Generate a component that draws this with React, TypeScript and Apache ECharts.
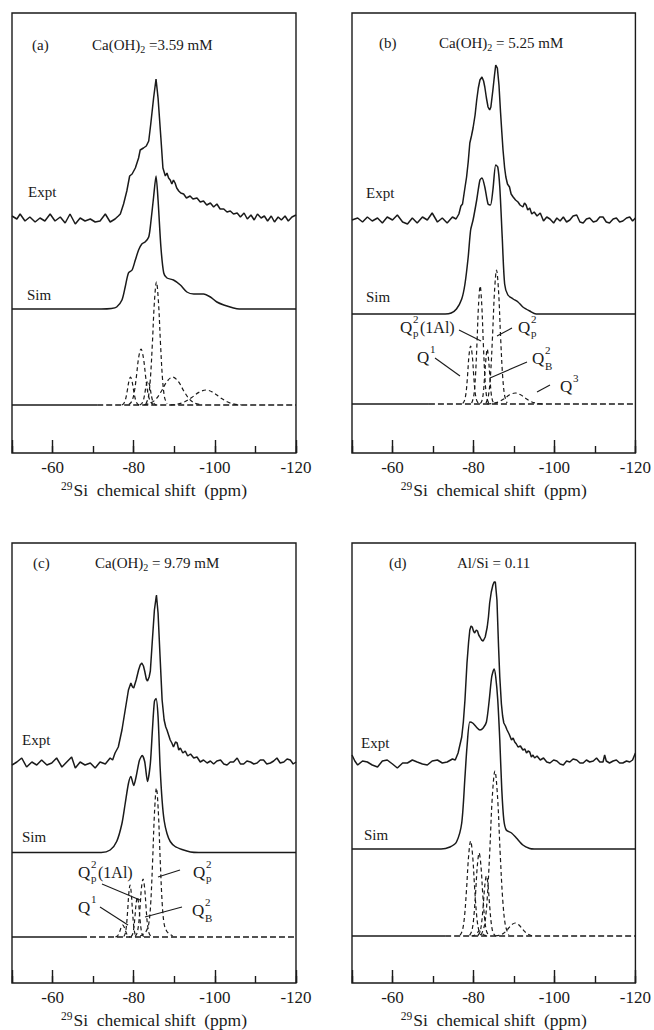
import { useEffect, useRef } from "react";
import * as echarts from "echarts";

type Pt = [number, number];

// ---- Axis ----
const xMin = -120;
const xMax = -50;
const majorStep = 20;
const minorStep = 10;

// ---- (a) Ca(OH)2 = 3.59 mM ----
const exptA: Pt[] = [[-50,2],[-51.2,-1],[-52,4],[-53.2,-3],[-54.4,1],[-55.7,-4],[-56.9,0],[-58.1,-3],[-59.4,4],[-60.6,-3],[-61.9,1],[-63.1,-5],[-64.3,4],[-65.6,-6],[-66.8,0],[-68,-3],[-69.3,-1],[-70.5,-4],[-71.7,-3],[-73,4],[-74.2,-4],[-75.4,-1],[-76.2,2],[-76.7,4],[-77.5,14],[-78.3,27],[-79.0,42],[-79.6,44],[-80.4,50],[-81.2,60],[-81.6,68],[-82.4,70],[-83.1,72],[-83.7,77],[-84.2,94],[-84.9,120],[-85.5,139],[-86.0,120],[-86.7,80],[-87.2,50],[-87.8,42],[-88.2,45],[-88.6,40],[-89.0,38],[-89.4,34],[-89.8,38],[-90.2,35],[-90.6,30],[-91.1,27],[-91.6,25],[-92.3,24],[-93.0,20],[-93.9,22],[-94.6,19],[-95.6,20],[-96.4,16],[-97.2,17],[-98.0,13],[-98.9,15],[-99.7,11],[-100.5,14],[-101.3,9],[-102.2,9],[-103,6],[-103.8,7],[-104.6,4],[-105.5,5],[-106.3,1],[-107.2,5],[-108,-1],[-108.9,3],[-109.7,-2],[-110.5,4],[-111.4,0],[-112.2,2],[-113,-3],[-113.9,2],[-114.7,-4],[-115.6,1],[-116.4,-2],[-117.3,2],[-118.1,-3],[-119,1],[-120,3]];
const simA: Pt[] = [[-50,0],[-72,0],[-74.5,0.5],[-75.8,2],[-77.1,9],[-77.9,22],[-78.7,36],[-79.6,39],[-80.4,49],[-81.2,59],[-82.0,65],[-82.8,67],[-83.7,72],[-84.2,86],[-84.9,112],[-85.5,133],[-86.0,109],[-86.7,62],[-87.4,36],[-88.2,31],[-89.8,29],[-91.5,24],[-93.1,17],[-94.8,15],[-97.2,15],[-98.9,12],[-100.5,7],[-102.2,4],[-104.6,1],[-106,0],[-120,0]];
const compA1: Pt[] = [[-77.1,0],[-77.6,1.8],[-78.0,6],[-78.4,14],[-78.8,23.5],[-79.2,28],[-79.6,23.5],[-80.0,14],[-80.4,6],[-80.8,1.8],[-81.3,0]];
const compA2: Pt[] = [[-78.8,0.5],[-79.5,3.5],[-80.1,12],[-80.65,28],[-81.2,47],[-81.8,56],[-82.4,47],[-82.95,28],[-83.5,12],[-84.1,3.5],[-84.8,0.5]];
const compA3: Pt[] = [[-83.0,1],[-83.6,7.7],[-84.1,26],[-84.6,61.5],[-85.1,103],[-85.6,123],[-86.1,103],[-86.6,61.5],[-87.1,26],[-87.6,7.7],[-88.2,1]];
const compA4: Pt[] = [[-81.5,0],[-82.0,1.5],[-82.4,5],[-82.75,12],[-83.1,20],[-83.5,24],[-83.9,20],[-84.25,12],[-84.6,5],[-85.0,1.5],[-85.5,0]];
const compA5: Pt[] = [[-82.6,0.3],[-84.1,1.8],[-85.5,6],[-86.85,14],[-88.2,23.5],[-89.6,28],[-91.0,23.5],[-92.35,14],[-93.7,6],[-95.1,1.8],[-96.6,0.3]];
const compA6: Pt[] = [[-89.1,0.2],[-90.8,0.9],[-92.55,3.2],[-94.3,7.5],[-96.05,12.6],[-97.8,15],[-99.55,12.6],[-101.3,7.5],[-103.05,3.2],[-104.8,0.9],[-106.5,0.2]];

// ---- (b) Ca(OH)2 = 5.25 mM ----
const exptB: Pt[] = [[-50,0],[-51.4,2],[-52.6,-2],[-53.8,3],[-55,-1],[-56.3,2],[-57.5,-3],[-58.7,3],[-60,0],[-61.2,5],[-62.5,-2],[-63.7,-4],[-64.9,2],[-66.1,-3],[-67.4,3],[-68.6,0],[-69.8,7],[-71.1,-2],[-72.3,2],[-73.5,-3],[-74.8,3],[-75.7,1],[-76.4,6],[-76.9,14],[-77.3,16],[-77.7,27],[-78.3,43],[-78.7,58],[-79.1,77],[-79.5,84],[-79.9,92],[-80.4,105],[-80.8,120],[-81.2,132],[-81.6,140],[-82.1,143],[-82.5,139],[-82.8,133],[-83.2,122],[-83.6,113],[-84.0,110],[-84.3,113],[-84.8,130],[-85.2,145],[-85.5,155],[-85.9,152],[-86.3,135],[-86.7,107],[-87.0,88],[-87.3,70],[-87.7,52],[-88.0,43],[-88.4,36],[-88.9,33],[-89.3,26],[-89.8,23],[-90.4,20],[-91.0,18],[-91.5,15],[-92.2,13],[-92.6,17],[-93.0,15],[-93.4,10],[-93.9,12],[-94.4,6],[-95.0,8],[-95.7,4],[-96.5,7],[-97.3,-1],[-98.1,3],[-98.9,1],[-99.8,-3],[-100.6,2],[-101.4,-1],[-102.2,3],[-103.0,-2],[-103.8,0],[-104.6,4],[-105.5,5],[-106.3,-2],[-107.1,-3],[-107.9,1],[-108.7,2],[-109.6,-2],[-110.4,-1],[-111.2,3],[-112.0,3],[-112.8,-2],[-113.6,-3],[-114.5,1],[-115.3,2],[-116.1,-2],[-116.9,-1],[-117.8,2],[-118.6,3],[-119.3,-1],[-120,2]];
const simB: Pt[] = [[-50,0],[-73,0],[-74.5,1],[-75.8,5],[-77.1,15],[-77.9,30],[-78.7,57],[-79.3,84],[-79.9,94],[-80.8,114],[-81.6,134],[-82.1,136],[-82.8,127],[-83.6,110],[-84.2,109],[-84.8,124],[-85.5,149],[-86.0,147],[-86.5,127],[-87.1,77],[-87.7,30],[-88.5,19],[-89.8,15],[-91,12],[-92.2,7],[-93.9,3],[-95.5,0],[-120,0]];
const q1B: Pt[] = [[-77.35,0.5],[-77.8,3.6],[-78.2,12.2],[-78.55,29],[-78.9,48.7],[-79.3,58],[-79.7,48.7],[-80.05,29],[-80.4,12.2],[-80.8,3.6],[-81.25,0.5]];
const q2p1AlB: Pt[] = [[-79.55,0.9],[-80.05,7.4],[-80.45,25],[-80.85,59],[-81.25,99],[-81.65,118],[-82.05,99],[-82.45,59],[-82.85,25],[-83.25,7.4],[-83.75,0.9]];
const q2BB: Pt[] = [[-81.7,0.5],[-82.1,3.4],[-82.45,11.6],[-82.75,27.5],[-83.1,46],[-83.4,55],[-83.7,46],[-84.05,27.5],[-84.35,11.6],[-84.7,3.4],[-85.1,0.5]];
const q2pB: Pt[] = [[-83.1,1],[-83.7,8.4],[-84.2,28.3],[-84.7,67],[-85.2,112.6],[-85.7,134],[-86.2,112.6],[-86.7,67],[-87.2,28.3],[-87.7,8.4],[-88.3,1]];
const q3B: Pt[] = [[-83.4,0.1],[-85.0,0.7],[-86.3,2.3],[-87.65,5.5],[-88.95,9.2],[-90.3,11],[-91.65,9.2],[-92.95,5.5],[-94.3,2.3],[-95.6,0.7],[-97.2,0.1]];

// ---- (c) Ca(OH)2 = 9.79 mM ----
const exptC: Pt[] = [[-50,-2],[-51.2,1],[-52.4,5],[-53.6,-4],[-54.9,1],[-56.1,-2],[-57.3,3],[-58.6,-2],[-59.8,0],[-61,5],[-62.3,-4],[-63.5,1],[-64.7,6],[-65.6,-5],[-66.8,1],[-68,-2],[-69.3,0],[-70.5,-5],[-71.7,1],[-73,-1],[-74.2,5],[-74.8,3],[-75.4,10],[-76.2,16],[-77.1,33],[-77.9,53],[-78.7,73],[-79.3,80],[-79.7,76],[-80.0,75],[-80.6,83],[-81.2,93],[-81.6,98],[-82.0,100],[-82.4,97],[-82.7,92],[-83.1,84],[-83.4,82],[-83.8,86],[-84.1,92],[-84.6,123],[-85.1,153],[-85.6,168],[-86.0,150],[-86.5,106],[-87.0,63],[-87.5,43],[-87.9,36],[-88.2,33],[-88.6,28],[-89.0,23],[-89.4,20],[-89.8,16],[-90.3,21],[-90.7,20],[-91.1,13],[-91.5,15],[-92.1,10],[-92.7,12],[-93.3,7],[-94.0,9],[-94.8,5],[-95.6,6],[-96.4,1],[-97.2,3],[-98.1,0],[-98.9,2],[-99.7,-1],[-100.5,2],[-101.4,3],[-102.2,-1],[-103,-2],[-103.8,1],[-104.6,1],[-105.5,5],[-106.3,-1],[-107.1,-1],[-107.9,2],[-108.8,1],[-109.6,-1],[-110.4,0],[-111.2,3],[-112,3],[-112.8,-1],[-113.7,0],[-114.5,2],[-115.3,5],[-116.1,0],[-117,1],[-117.8,4],[-118.6,3],[-119.3,-1],[-120,1]];
const simC: Pt[] = [[-50,0],[-72,0],[-74.2,2.5],[-75.8,11],[-77.1,29],[-77.9,49],[-78.7,69],[-79.3,76],[-80.0,67],[-80.6,76],[-81.4,92],[-82.1,97],[-82.7,91],[-83.4,71],[-84.1,89],[-84.6,122],[-85.1,151],[-85.5,154],[-86.0,136],[-86.5,86],[-87.0,52],[-87.5,32],[-88.2,19],[-89.0,11],[-90.2,6],[-91.9,3],[-94,0.5],[-96,0],[-120,0]];
const q0C: Pt[] = [[-75.5,0.1],[-75.9,0.75],[-76.25,2.5],[-76.6,6],[-76.95,10],[-77.3,12],[-77.65,10],[-78.0,6],[-78.35,2.5],[-78.7,0.75],[-79.1,0.1]];
const q1C: Pt[] = [[-77.55,0.5],[-77.9,3.3],[-78.2,11],[-78.5,26],[-78.8,43.7],[-79.1,52],[-79.4,43.7],[-79.7,26],[-80.0,11],[-80.3,3.3],[-80.65,0.5]];
const q2p1AlC: Pt[] = [[-79.35,0.4],[-79.7,2.5],[-80.0,8.4],[-80.3,20],[-80.6,33.6],[-80.9,40],[-81.2,33.6],[-81.5,20],[-81.8,8.4],[-82.1,2.5],[-82.45,0.4]];
const q2BC: Pt[] = [[-80.35,0.5],[-80.8,3.6],[-81.2,12.2],[-81.55,29],[-81.9,48.7],[-82.3,58],[-82.7,48.7],[-83.05,29],[-83.4,12.2],[-83.8,3.6],[-84.25,0.5]];
const q2pC: Pt[] = [[-81.6,1],[-82.4,3],[-83.1,6],[-83.7,13],[-84.18,33],[-84.65,75],[-85.13,125],[-85.6,149],[-86.07,125],[-86.55,75],[-87.03,33],[-87.5,13],[-88.1,6],[-88.8,3],[-89.6,1]];

// ---- (d) Al/Si = 0.11 ----
const exptD: Pt[] = [[-50,7],[-50.7,1],[-51.4,-3],[-52.6,1],[-53.8,0],[-55,-3],[-56.3,-5],[-57.5,1],[-58.7,2],[-60,-2],[-61.2,-6],[-62.5,-1],[-63.7,-1],[-64.9,2],[-66.1,0],[-67.4,-2],[-68.6,-3],[-69.8,1],[-71.1,2],[-72.3,-1],[-73.5,0],[-74.8,3],[-75.5,2],[-76.2,9],[-77.1,25],[-77.5,40],[-77.9,62],[-78.4,99],[-78.8,120],[-79.1,132],[-79.4,136],[-79.7,135],[-80.0,131],[-80.3,129],[-80.7,132],[-81.0,131],[-81.3,127],[-81.6,125],[-82.0,122],[-82.4,121],[-82.9,125],[-83.4,135],[-83.7,145],[-84.0,159],[-84.4,170],[-84.8,177],[-85.1,180],[-85.4,180],[-85.8,162],[-86.2,115],[-86.5,85],[-86.9,58],[-87.2,46],[-87.5,39],[-87.9,36],[-88.3,32],[-88.8,28],[-89.4,22],[-89.8,24],[-90.2,20],[-90.6,18],[-91.0,15],[-91.6,16],[-92.2,12],[-92.7,13],[-93.1,9],[-93.5,11],[-93.9,10],[-94.3,5],[-94.7,7],[-95.1,4],[-95.7,6],[-96.5,2],[-97.3,4],[-98.1,0],[-98.9,-1],[-99.8,2],[-100.6,1],[-101.4,-2],[-102.2,-3],[-103,1],[-103.8,0],[-104.6,3],[-105.5,2],[-106.3,-1],[-107.1,-1],[-107.9,2],[-108.7,0],[-109.6,1],[-110.4,4],[-111.2,0],[-112.0,0],[-112.4,7],[-112.8,1],[-113.6,-1],[-114.5,1],[-115.3,2],[-116.1,-1],[-116.9,-1],[-117.8,1],[-118.6,0],[-119.3,2],[-120,9]];
const simD: Pt[] = [[-50,0],[-72,0],[-74.2,2],[-75.8,7],[-77.1,26],[-77.9,72],[-78.4,102],[-79.1,127],[-79.8,126],[-80.7,122],[-81.6,119],[-82.4,121],[-83.2,127],[-83.9,149],[-84.5,172],[-85.1,180],[-85.5,172],[-86.0,149],[-86.5,109],[-87.0,59],[-87.5,29],[-88.1,19],[-89.4,16],[-90.6,11],[-92.2,4],[-93.9,0.5],[-95,0],[-120,0]];
const compD1: Pt[] = [[-76.7,0.7],[-77.3,6],[-77.8,20],[-78.3,47.5],[-78.8,80],[-79.3,95],[-79.8,80],[-80.3,47.5],[-80.8,20],[-81.3,6],[-81.9,0.7]];
const compD2: Pt[] = [[-79.05,0.6],[-79.6,5.2],[-80.05,17.5],[-80.5,41.5],[-80.95,70],[-81.4,83],[-81.85,70],[-82.3,41.5],[-82.75,17.5],[-83.2,5.2],[-83.75,0.6]];
const compD3: Pt[] = [[-81.1,0.5],[-81.6,3.75],[-82.0,12.6],[-82.4,30],[-82.8,50.5],[-83.2,60],[-83.6,50.5],[-84.0,30],[-84.4,12.6],[-84.8,3.75],[-85.3,0.5]];
const compD4: Pt[] = [[-81.9,1.2],[-82.7,10.3],[-83.35,35],[-84.0,82.5],[-84.65,139],[-85.3,165],[-85.95,139],[-86.6,82.5],[-87.25,35],[-87.9,10.3],[-88.7,1.2]];
const compD5: Pt[] = [[-85.4,0.1],[-86.5,0.8],[-87.45,2.7],[-88.4,6.5],[-89.35,11],[-90.3,13],[-91.25,11],[-92.2,6.5],[-93.15,2.7],[-94.1,0.8],[-95.2,0.1]];
const compD6: Pt[] = [[-79.5,0],[-80.4,1],[-81,3.5],[-81.5,5],[-82,3.5],[-82.6,1],[-83.5,0]];

// where the solid stretch of the component baseline gives way to the dashed one
const solidBaseEnd = [-71, -69, -67, -73];

const FONT = "'Liberation Serif', 'Times New Roman', 'DejaVu Serif', serif";
const INK = "#1a1a1a";

interface Panel {
  left: number;
  top: number;
  width: number;
  expt: Pt[];
  sim: Pt[];
  comps: Pt[][];
  // vertical stacking of the three traces (expt, sim, components) in axis units
  lift: [number, number, number];
}

const PANEL_H = 440;

const panels: Panel[] = [
  { left: 12, top: 13, width: 284, expt: exptA, sim: simA, comps: [compA1, compA2, compA3, compA4, compA5, compA6], lift: [235, 144, 48] },
  { left: 352, top: 13, width: 285, expt: exptB, sim: simB, comps: [q1B, q2p1AlB, q2BB, q2pB, q3B], lift: [233, 139, 49] },
  { left: 12, top: 543, width: 284, expt: exptC, sim: simC, comps: [q0C, q1C, q2p1AlC, q2BC, q2pC], lift: [220, 130.5, 46] },
  { left: 352, top: 543, width: 285, expt: exptD, sim: simD, comps: [compD1, compD2, compD3, compD4, compD5, compD6], lift: [221, 134, 47] },
];

const lift = (pts: Pt[], dy: number): Pt[] => pts.map(([x, y]) => [x, y + dy]);

function txt(x: number, y: number, text: string, size: number, align: string = "left"): any {
  return {
    type: "text",
    x,
    y,
    silent: true,
    style: { text, fontSize: size, fontFamily: FONT, fill: INK, align, verticalAlign: "middle" },
  };
}

function richTxt(x: number, y: number, text: string): any {
  return {
    type: "text",
    x,
    y,
    silent: true,
    style: {
      text,
      fontFamily: FONT,
      fontSize: 15,
      fill: INK,
      align: "left",
      verticalAlign: "middle",
      rich: {
        t: { fontSize: 15, fontFamily: FONT, fill: INK, lineHeight: 18 },
        s: { fontSize: 10, fontFamily: FONT, fill: INK, lineHeight: 10, verticalAlign: "bottom" },
      },
    },
  };
}

function seg(x1: number, y1: number, x2: number, y2: number): any {
  return {
    type: "line",
    silent: true,
    shape: { x1, y1, x2, y2 },
    style: { stroke: INK, lineWidth: 1.1 },
  };
}

// Q label: main letter with stacked superscript / subscript and optional tail
function qLabel(x: number, y: number, sup: string, sub: string, tail: string, subDy = 6): any[] {
  const out: any[] = [txt(x, y, "Q", 17)];
  if (sup) out.push(txt(x + 13, y - 8, sup, 11));
  if (sub) out.push(txt(x + 13, y + subDy, sub, 11));
  if (tail) out.push(txt(x + 20, y, tail, 16));
  return out;
}

export default function App() {
  const ref = useRef<HTMLDivElement>(null);

  useEffect(() => {
    document.body.style.margin = "0";
    if (!ref.current) return;
    const chart = echarts.init(ref.current, null, { renderer: "svg" });

    const grid: any[] = [];
    const xAxis: any[] = [];
    const yAxis: any[] = [];
    const series: any[] = [];

    panels.forEach((p, i) => {
      grid.push({
        left: p.left,
        top: p.top,
        width: p.width,
        height: PANEL_H,
        show: true,
        borderColor: INK,
        borderWidth: 1.4,
        backgroundColor: "transparent",
      });
      xAxis.push({
        gridIndex: i,
        type: "value",
        min: xMin,
        max: xMax,
        interval: majorStep,
        inverse: true,
        position: "bottom",
        axisLine: { show: false },
        axisTick: { inside: true, length: 13, lineStyle: { color: INK, width: 1.4 } },
        axisLabel: {
          margin: 6,
          fontSize: 17,
          fontFamily: FONT,
          color: INK,
          formatter: (v: number) => (v === xMax ? "" : String(v)),
        },
        splitLine: { show: false },
        name: "{sup|29}{t|Si  chemical shift  (ppm)}",
        nameLocation: "middle",
        nameGap: 27,
        nameTextStyle: {
          fontFamily: FONT,
          color: INK,
          rich: {
            sup: { fontSize: 11.5, fontFamily: FONT, color: INK, lineHeight: 20, verticalAlign: "top", padding: [0, 1, 0, 0] },
            t: { fontSize: 17.5, fontFamily: FONT, color: INK, lineHeight: 20 },
          },
        },
      });
      xAxis.push({
        gridIndex: i,
        type: "value",
        min: xMin,
        max: xMax,
        interval: minorStep,
        inverse: true,
        position: "bottom",
        axisLine: { show: false },
        axisTick: { inside: true, length: 7, lineStyle: { color: INK, width: 1.4 } },
        axisLabel: { show: false },
        splitLine: { show: false },
      });
      yAxis.push({ gridIndex: i, type: "value", min: 0, max: PANEL_H, show: false });

      const xi = i * 2;
      const solid = { color: INK, width: 1.5 };
      const base = {
        type: "line",
        xAxisIndex: xi,
        yAxisIndex: i,
        symbol: "none",
        silent: true,
        animation: false,
      };
      series.push({ ...base, data: lift(p.expt, p.lift[0]), lineStyle: solid });
      series.push({ ...base, data: lift(p.sim, p.lift[1]), smooth: 0.25, lineStyle: solid });
      p.comps.forEach((c) =>
        series.push({
          ...base,
          data: lift(c, p.lift[2]),
          smooth: 0.35,
          lineStyle: { color: INK, width: 1.2, type: [4, 3] },
        })
      );
      series.push({
        ...base,
        data: lift([[xMax, 0], [solidBaseEnd[i], 0]], p.lift[2]),
        lineStyle: { color: INK, width: 1.7 },
      });
      series.push({
        ...base,
        data: lift([[solidBaseEnd[i], 0], [xMin, 0]], p.lift[2]),
        lineStyle: { color: INK, width: 1.5, type: [6, 3] },
      });
    });

    const graphics: any[] = [
      // panel titles
      txt(32, 45, "(a)", 15),
      richTxt(92, 45, "{t|Ca(OH)}{s|2}{t| =3.59 mM}"),
      txt(379, 43, "(b)", 15),
      richTxt(439, 43, "{t|Ca(OH)}{s|2}{t| = 5.25 mM}"),
      txt(33, 563, "(c)", 15),
      richTxt(95, 563, "{t|Ca(OH)}{s|2}{t| = 9.79 mM}"),
      txt(389, 563, "(d)", 15),
      txt(457, 563, "Al/Si = 0.11", 15),
      // trace names
      txt(28, 192, "Expt", 15),
      txt(27, 295, "Sim", 15),
      txt(366, 193, "Expt", 15),
      txt(366, 297, "Sim", 15),
      txt(22, 740, "Expt", 15),
      txt(22, 837, "Sim", 15),
      txt(361, 743, "Expt", 15),
      txt(364, 835, "Sim", 15),
      // component labels, panel (b)
      ...qLabel(400, 327, "2", "p", "(1Al)"),
      seg(459, 330, 481, 341),
      ...qLabel(518, 327, "2", "p", ""),
      seg(512, 328, 497, 336),
      ...qLabel(417, 357, "1", "", ""),
      seg(435, 358, 460, 376),
      ...qLabel(532, 358, "2", "B", "", 8),
      seg(527, 362, 490, 378),
      ...qLabel(560, 386, "3", "", ""),
      seg(550, 385, 537, 392),
      // component labels, panel (c)
      ...qLabel(78, 872, "2", "p", "(1Al)"),
      seg(102, 884, 140, 900),
      ...qLabel(193, 872, "2", "p", ""),
      seg(180, 870, 158, 877),
      ...qLabel(78, 907, "1", "", ""),
      seg(100, 907, 128, 925),
      ...qLabel(192, 910, "2", "B", "", 8),
      seg(182, 907, 145, 917),
    ];

    chart.setOption({
      animation: false,
      backgroundColor: "#ffffff",
      grid,
      xAxis,
      yAxis,
      series,
      graphic: graphics,
    });

    return () => chart.dispose();
  }, []);

  return <div ref={ref} style={{ width: 654, height: 1030 }} />;
}
